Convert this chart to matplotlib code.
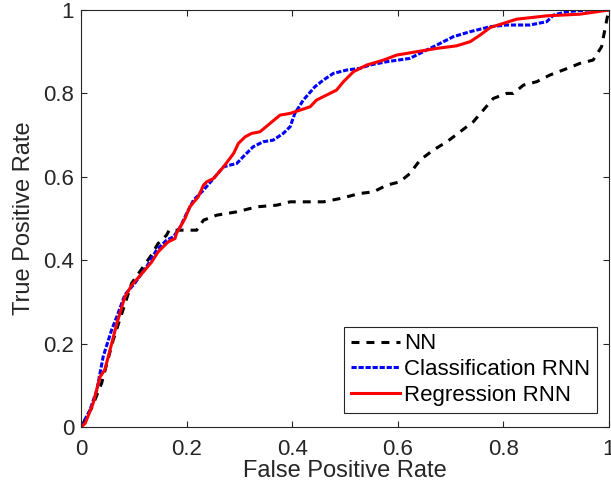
import matplotlib
matplotlib.use('Agg')
import matplotlib.pyplot as plt

plt.rcParams['font.family'] = ['Liberation Sans', 'DejaVu Sans']

# ROC curves (false positive rate, true positive rate)
nn_fpr = [0, 0.02, 0.039, 0.061, 0.096, 0.131, 0.146, 0.162, 0.167, 0.188, 0.219, 0.232,
          0.257, 0.295, 0.333, 0.371, 0.396, 0.459, 0.491, 0.528, 0.554, 0.579, 0.604,
          0.623, 0.642, 0.667, 0.693, 0.718, 0.743, 0.762, 0.781, 0.806, 0.819, 0.838,
          0.863, 0.888, 0.913, 0.945, 0.97, 0.986, 0.992, 0.997, 1.0]
nn_tpr = [0, 0.045, 0.105, 0.209, 0.345, 0.408, 0.44, 0.46, 0.472, 0.472, 0.472, 0.496,
          0.508, 0.516, 0.528, 0.532, 0.54, 0.54, 0.548, 0.56, 0.564, 0.58, 0.588,
          0.608, 0.64, 0.664, 0.684, 0.708, 0.732, 0.76, 0.788, 0.8, 0.8, 0.82,
          0.828, 0.844, 0.856, 0.872, 0.88, 0.912, 0.952, 0.984, 1.0]

cls_fpr = [0, 0.017, 0.03, 0.042, 0.058, 0.068, 0.083, 0.102, 0.124, 0.143, 0.162, 0.175,
           0.188, 0.2, 0.213, 0.232, 0.251, 0.27, 0.282, 0.295, 0.307, 0.326, 0.345,
           0.364, 0.383, 0.396, 0.405, 0.421, 0.443, 0.459, 0.478, 0.503, 0.528, 0.547,
           0.579, 0.623, 0.648, 0.674, 0.705, 0.737, 0.775, 0.806, 0.85, 0.882, 0.895,
           0.92, 0.958, 1.0]
cls_tpr = [0, 0.041, 0.089, 0.169, 0.233, 0.265, 0.317, 0.345, 0.384, 0.424, 0.448, 0.456,
           0.48, 0.512, 0.544, 0.568, 0.596, 0.624, 0.628, 0.632, 0.648, 0.672, 0.684,
           0.688, 0.704, 0.72, 0.752, 0.784, 0.816, 0.832, 0.848, 0.856, 0.86, 0.868,
           0.876, 0.884, 0.9, 0.916, 0.936, 0.948, 0.96, 0.964, 0.964, 0.972, 0.988,
           0.996, 1.0, 1.0]

reg_fpr = [0, 0.008, 0.023, 0.036, 0.045, 0.055, 0.068, 0.083, 0.096, 0.118, 0.134, 0.146,
           0.165, 0.178, 0.181, 0.188, 0.197, 0.206, 0.222, 0.232, 0.238, 0.251, 0.27,
           0.289, 0.298, 0.311, 0.323, 0.339, 0.358, 0.377, 0.396, 0.415, 0.434, 0.446,
           0.465, 0.484, 0.497, 0.516, 0.541, 0.573, 0.598, 0.636, 0.674, 0.711, 0.737,
           0.756, 0.775, 0.8, 0.825, 0.882, 0.945, 1.0]
reg_tpr = [0, 0.009, 0.057, 0.12, 0.137, 0.185, 0.249, 0.312, 0.34, 0.372, 0.396, 0.42,
           0.444, 0.452, 0.465, 0.48, 0.5, 0.528, 0.552, 0.58, 0.588, 0.596, 0.624,
           0.656, 0.68, 0.696, 0.704, 0.708, 0.728, 0.748, 0.752, 0.76, 0.768, 0.784,
           0.796, 0.808, 0.828, 0.852, 0.868, 0.88, 0.892, 0.9, 0.908, 0.914, 0.924,
           0.94, 0.958, 0.968, 0.978, 0.986, 0.99, 1.0]

labels = ['NN', 'Classification RNN', 'Regression RNN']
ticks = [0, 0.2, 0.4, 0.6, 0.8, 1]
tick_labels = ['0', '0.2', '0.4', '0.6', '0.8', '1']

fig = plt.figure(figsize=(6.11, 4.86), dpi=100)
ax = fig.add_axes([0.1326, 0.1214, 0.8641, 0.858])

ax.plot(nn_fpr, nn_tpr, color='black', linestyle=(0, (2.6, 2.3)), linewidth=2.2, label=labels[0])
ax.plot(cls_fpr, cls_tpr, color='blue', linestyle=(0, (1.7, 0.6)), linewidth=2.2, label=labels[1])
ax.plot(reg_fpr, reg_tpr, color='red', linestyle='-', linewidth=2.2, label=labels[2])

ax.set_xlim(0, 1)
ax.set_ylim(0, 1)
ax.set_xticks(ticks)
ax.set_yticks(ticks)
ax.set_xticklabels(tick_labels)
ax.set_yticklabels(tick_labels)
ax.tick_params(direction='in', length=4, width=0.8, top=True, right=True,
               labelsize=16, colors='0.15')
ax.tick_params(axis='x', pad=9)
ax.tick_params(axis='y', pad=5)
for s in ax.spines.values():
    s.set_color('0.15')
    s.set_linewidth(0.8)

ax.set_xlabel('False Positive Rate', fontsize=17, color='0.15', labelpad=0)
ax.set_ylabel('True Positive Rate', fontsize=17, color='0.15', labelpad=6)

leg = ax.legend(loc='lower right', bbox_to_anchor=(0.977, 0.034), borderaxespad=0,
                fontsize=16, handlelength=2.2, handletextpad=0.2, labelspacing=0.22,
                borderpad=0.3, fancybox=False, framealpha=1)
leg.get_frame().set_edgecolor('0.15')
leg.get_frame().set_linewidth(0.8)

fig.savefig('out.png', dpi=100)
